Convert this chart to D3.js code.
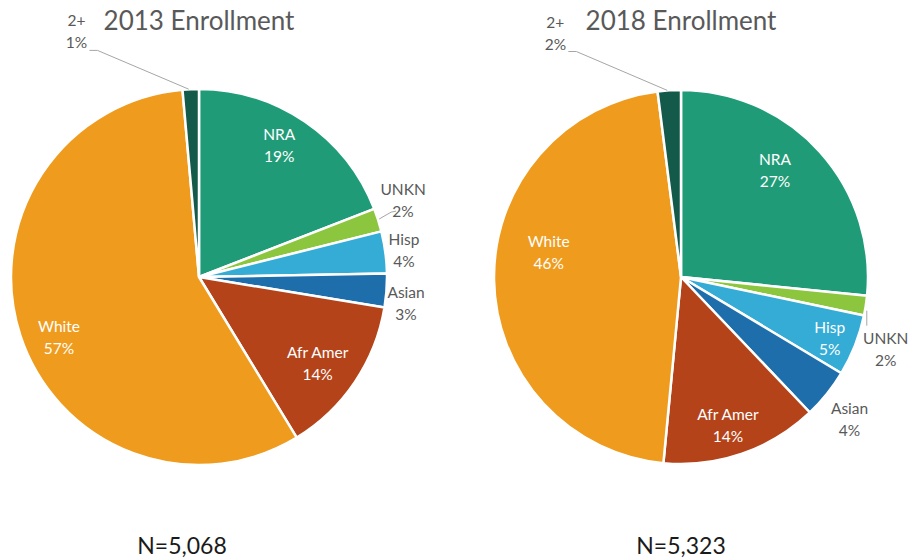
<!DOCTYPE html>
<html><head><meta charset="utf-8">
<script src="https://cdn.jsdelivr.net/npm/d3@7"></script>
<style>body{margin:0;background:#fff}svg{display:block}</style>
</head><body>
<svg id="c" width="919" height="558"></svg>
<script>
const categories = ["NRA","UNKN","Hisp","Asian","Afr Amer","White","2+"];
const values2013 = [19.1, 2.0, 3.6, 2.9, 13.7, 57.3, 1.4];
const values2018 = [26.6, 1.7, 5.3, 4.3, 13.6, 46.5, 2.0];
const labels2013 = ["19%","2%","4%","3%","14%","57%","1%"];
const labels2018 = ["27%","2%","5%","4%","14%","46%","2%"];
const titles = ["2013 Enrollment","2018 Enrollment"];
const nLabels = ["N=5,068","N=5,323"];
const colors = ["#1f9c77","#8cc63e","#35acd6","#1e6eac","#b4431a","#ef9b1d","#135a4b"];

// label placement (polar: radius factor, angle nudge in degrees, inside?)
const place2013 = [
  {r:0.82, da:-3, inside:true},
  {r:1.16, da:-3, inside:false, leader:true},
  {r:1.10, da:0, inside:false},
  {r:1.11, da:3, inside:false},
  {r:0.78, da:2, inside:true},
  {r:0.81, da:-5, inside:true},
  {r:1.46, da:-24, inside:false, leader:true}
];
const place2018 = [
  {r:0.76, da:-6.5, inside:true},
  {r:1.16, da:10.5, inside:false, leader:true},
  {r:0.86, da:1, inside:true},
  {r:1.18, da:1.5, inside:false},
  {r:0.83, da:1.5, inside:true},
  {r:0.72, da:11.5, inside:true},
  {r:1.47, da:-23.6, inside:false, leader:true}
];

const svg = d3.select("#c");
const FONT = "Lato, 'Open Sans', sans-serif";

function drawPie(cx, cy, R, values, labels, place, title, nText, nx) {
  const g = svg.append("g").attr("transform", `translate(${cx},${cy})`);
  const pie = d3.pie().sort(null).value(d => d)(values);
  const arc = d3.arc().innerRadius(0).outerRadius(R);
  g.selectAll("path").data(pie).join("path")
    .attr("d", arc)
    .attr("fill", (d,i) => colors[i])
    .attr("stroke", "#fff").attr("stroke-width", 2.5).attr("stroke-linejoin","round");

  pie.forEach((d, i) => {
    const p = place[i];
    const mid = (d.startAngle + d.endAngle) / 2;
    const a = mid + p.da * Math.PI / 180;
    const x = Math.sin(a) * R * p.r, y = -Math.cos(a) * R * p.r;
    const t = g.append("text")
      .attr("x", x).attr("y", y)
      .attr("text-anchor", "middle")
      .attr("font-family", FONT).attr("font-size", 15.5)
      .attr("fill", p.inside ? "#ffffff" : "#595959");
    t.append("tspan").attr("x", x).attr("y", y - 11).attr("dominant-baseline","central").text(categories[i]);
    t.append("tspan").attr("x", x).attr("y", y + 11).attr("dominant-baseline","central").text(labels[i]);
    if (p.leader) {
      const ax = Math.sin(mid) * R, ay = -Math.cos(mid) * R;
      let pts;
      if (i === 6) {
        pts = [[x + 13, y + 19], [x + 21, y + 19], [ax - 2, ay]];
      } else if (Math.abs(a - mid) > 0.1) {
        pts = [[ax + 1, ay + 5], [ax + 1, ay + 20]];
      } else {
        pts = [[ax + 1, ay - 1], [x - 12, y + 12], [x - 7, y + 11]];
      }
      g.append("path").attr("d", d3.line()(pts))
        .attr("fill","none").attr("stroke","#a6a6a6").attr("stroke-width",1);
    }
  });

  svg.append("text").attr("x", cx).attr("y", 30).attr("text-anchor","middle")
    .attr("font-family", FONT).attr("font-size", 26).attr("fill","#595959").text(title);
  svg.append("text").attr("x", nx).attr("y", 554).attr("text-anchor","middle")
    .attr("font-family", FONT).attr("font-size", 23).attr("fill","#1a1a1a").text(nText);
}

drawPie(199, 277, 188, values2013, labels2013, place2013, titles[0], nLabels[0], 182);
drawPie(681, 277, 187, values2018, labels2018, place2018, titles[1], nLabels[1], 681);
</script>
</body></html>
